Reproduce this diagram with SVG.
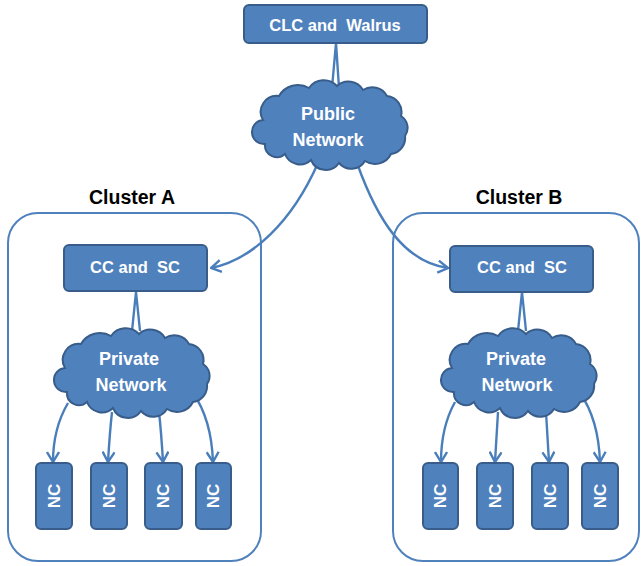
<svg xmlns="http://www.w3.org/2000/svg" xmlns:xlink="http://www.w3.org/1999/xlink" width="643" height="566" viewBox="0 0 643 566">
<defs>
<style>
.box{fill:#4F81BD;stroke:#385D8A;stroke-width:2}
.cloud{fill:#4F81BD;stroke:#385D8A;stroke-width:2}
.cluster{fill:none;stroke:#4F81BD;stroke-width:2}
.conn{fill:none;stroke:#4A7EBB;stroke-width:2.4}
.lbl{font-family:"Liberation Sans",Arial,sans-serif;font-weight:bold;fill:#FFFFFF;text-anchor:middle;white-space:pre}
.ttl{font-family:"Liberation Sans",Arial,sans-serif;font-weight:bold;fill:#000000;text-anchor:middle;font-size:19.5px}
</style>
<marker id="arr" markerUnits="userSpaceOnUse" viewBox="0 0 12 14" refX="11" refY="7" markerWidth="12" markerHeight="14" orient="auto">
<path d="M1,1 L11,7 L1,13" fill="none" stroke="#4A7EBB" stroke-width="2.4"/>
</marker>
<path id="cloudShape" d="M8,40 A16,16 0 0 1 24,16 A22,22 0 0 1 54,8 A18,18 0 0 1 82,6 A17,17 0 0 1 108,10 A17,17 0 0 1 132,16 A16,16 0 0 1 146,36 A14,14 0 0 1 150,56 A16,16 0 0 1 136,74 A18,18 0 0 1 110,81 A16,16 0 0 1 84,83 A16,16 0 0 1 56,80 A16,16 0 0 1 30,74 A12,12 0 0 1 10,64 A12,12 0 0 1 8,40 Z"/>
</defs>
<g id="clusterA">
<rect class="cluster" x="8" y="213" width="253" height="348" rx="30"/>
<text class="ttl" x="132" y="204">Cluster A</text>
</g>
<g id="clusterB">
<rect class="cluster" x="393" y="213" width="246" height="348" rx="30"/>
<text class="ttl" x="519" y="204">Cluster B</text>
</g>
<g id="connectors">
<path class="conn" d="M336,43 L332,88 M336,43 L339,88"/>
<path class="conn" d="M136,292 L132,331 M136,292 L140,331"/>
<path class="conn" d="M522,292 L518,331 M522,292 L526,331"/>
<path class="conn" marker-end="url(#arr)" d="M318,163 C292,222 252,260 211,268"/>
<path class="conn" marker-end="url(#arr)" d="M357,163 C378,222 405,262 448,268"/>
<path class="conn" marker-end="url(#arr)" d="M68,403 C58,420 53,440 53,462"/>
<path class="conn" marker-end="url(#arr)" d="M112,412 C110,430 109,445 108,462"/>
<path class="conn" marker-end="url(#arr)" d="M159,412 C161,430 162,445 163,462"/>
<path class="conn" marker-end="url(#arr)" d="M193,393 C205,410 212,435 213,462"/>
<path class="conn" marker-end="url(#arr)" d="M455,402 C445,420 441,440 441,462"/>
<path class="conn" marker-end="url(#arr)" d="M498,412 C497,430 496,445 495,462"/>
<path class="conn" marker-end="url(#arr)" d="M546,412 C547,430 548,445 549,462"/>
<path class="conn" marker-end="url(#arr)" d="M580,393 C592,410 599,435 600,462"/>
</g>
<g id="clc">
<rect class="box" x="244" y="5" width="183" height="38" rx="5"/>
<text class="lbl" x="335" y="31" font-size="16.5">CLC and  Walrus</text>
</g>
<g id="publicNetwork">
<use xlink:href="#cloudShape" class="cloud" transform="translate(255,80)"/>
<text class="lbl" x="328" y="120" font-size="18">Public</text>
<text class="lbl" x="328" y="146" font-size="18">Network</text>
</g>
<g id="ccA">
<rect class="box" x="64" y="245" width="143" height="46" rx="5"/>
<text class="lbl" x="135" y="273" font-size="16.5">CC and  SC</text>
</g>
<g id="privateA">
<use xlink:href="#cloudShape" class="cloud" transform="translate(57,328)"/>
<text class="lbl" x="129" y="365" font-size="18">Private</text>
<text class="lbl" x="131" y="391" font-size="18">Network</text>
</g>
<g id="ccB">
<rect class="box" x="450" y="246" width="143" height="46" rx="5"/>
<text class="lbl" x="522" y="273" font-size="16.5">CC and  SC</text>
</g>
<g id="privateB">
<use xlink:href="#cloudShape" class="cloud" transform="translate(444,328)"/>
<text class="lbl" x="516" y="365" font-size="18">Private</text>
<text class="lbl" x="517" y="391" font-size="18">Network</text>
</g>
<g id="ncA1"><rect class="box" x="36" y="463" width="36" height="66" rx="5"/><text class="lbl" font-size="17" transform="translate(60,496) rotate(-90)">NC</text></g>
<g id="ncA2"><rect class="box" x="91" y="463" width="36" height="66" rx="5"/><text class="lbl" font-size="17" transform="translate(115,496) rotate(-90)">NC</text></g>
<g id="ncA3"><rect class="box" x="145" y="463" width="37" height="66" rx="5"/><text class="lbl" font-size="17" transform="translate(169,496) rotate(-90)">NC</text></g>
<g id="ncA4"><rect class="box" x="196" y="463" width="35" height="66" rx="5"/><text class="lbl" font-size="17" transform="translate(219,496) rotate(-90)">NC</text></g>
<g id="ncB1"><rect class="box" x="423" y="463" width="35" height="66" rx="5"/><text class="lbl" font-size="17" transform="translate(446,496) rotate(-90)">NC</text></g>
<g id="ncB2"><rect class="box" x="477" y="463" width="36" height="66" rx="5"/><text class="lbl" font-size="17" transform="translate(501,496) rotate(-90)">NC</text></g>
<g id="ncB3"><rect class="box" x="532" y="463" width="36" height="66" rx="5"/><text class="lbl" font-size="17" transform="translate(556,496) rotate(-90)">NC</text></g>
<g id="ncB4"><rect class="box" x="582" y="463" width="36" height="66" rx="5"/><text class="lbl" font-size="17" transform="translate(606,496) rotate(-90)">NC</text></g>
</svg>
